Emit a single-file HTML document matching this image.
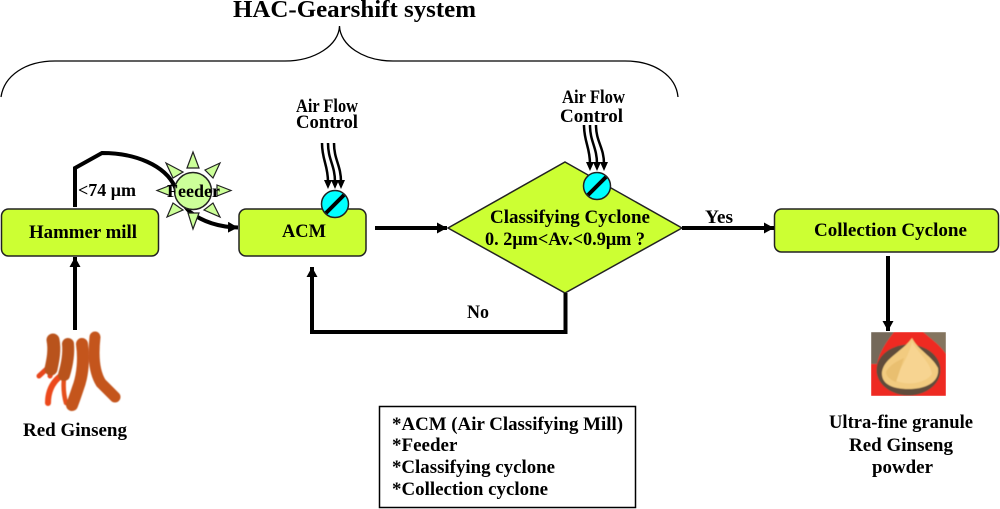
<!DOCTYPE html>
<html>
<head>
<meta charset="utf-8">
<style>
html,body{margin:0;padding:0;background:#fff}
svg{display:block}
text{font-family:"Liberation Serif",serif;font-weight:bold;fill:#000}
</style>
</head>
<body>
<svg width="1000" height="509" viewBox="0 0 1000 509" xmlns="http://www.w3.org/2000/svg">
<defs>
<marker id="a" markerWidth="13" markerHeight="13" refX="10" refY="5.500" orient="auto" markerUnits="userSpaceOnUse"><path d="M0 0L10 5.500L0 11Z" fill="#000"/></marker>
<filter id="b" x="-10%" y="-10%" width="120%" height="120%"><feGaussianBlur stdDeviation="0.5"/></filter>
<clipPath id="c"><rect x="871" y="332" width="75" height="64"/></clipPath>
</defs>

<text x="233" y="17" font-size="24" textLength="243" lengthAdjust="spacingAndGlyphs">HAC-Gearshift system</text>
<path d="M1 97C4 76 25 61 55 61H285C315 61 339 45 339.500 26C340 45 363 61 393 61H625C655 61 676 76 678 97" fill="none" stroke="#000" stroke-width="1.300"/>

<!-- boxes -->
<rect x="1.500" y="209" width="157" height="47" rx="7" fill="#ccff33" stroke="#222" stroke-width="1.500"/>
<rect x="239" y="209" width="127" height="47" rx="7" fill="#ccff33" stroke="#222" stroke-width="1.500"/>
<rect x="774.500" y="209" width="224" height="43" rx="7" fill="#ccff33" stroke="#222" stroke-width="1.500"/>
<path d="M565 162L682 228L565 293L448 228Z" fill="#ccff33" stroke="#222" stroke-width="1.500"/>

<text x="29" y="238" font-size="19" textLength="108" lengthAdjust="spacingAndGlyphs">Hammer mill</text>
<text x="282" y="237" font-size="19" textLength="44" lengthAdjust="spacingAndGlyphs">ACM</text>
<text x="814" y="236" font-size="19" textLength="153" lengthAdjust="spacingAndGlyphs">Collection Cyclone</text>
<text x="490" y="223" font-size="19" textLength="160" lengthAdjust="spacingAndGlyphs">Classifying Cyclone</text>
<text x="485" y="245" font-size="19" textLength="160" lengthAdjust="spacingAndGlyphs">0. 2μm&lt;Av.&lt;0.9μm ?</text>

<!-- hammer mill to feeder curve -->
<path d="M75 207V168L102 153C135 153 165 165 175 187" fill="none" stroke="#000" stroke-width="4"/>
<path d="M175 187C178 197 185 207 190 212C203 222 218 227 238 227.500" fill="none" stroke="#000" stroke-width="4" marker-end="url(#a)"/>
<text x="78" y="196" font-size="18" textLength="58" lengthAdjust="spacingAndGlyphs">&lt;74 μm</text>

<!-- feeder sun -->
<g fill="#ccff99" stroke="#222" stroke-width="1.200">
<path d="M187 168L193 152L199 168Z"/>
<path d="M188 213L193 229L199 213Z"/>
<path d="M171 185L157 190.500L171 196Z"/>
<path d="M217 185L231 190.500L217 196Z"/>
<path d="M166 163L183 172L173 178Z"/>
<path d="M220 163L205 170L213 178Z"/>
<path d="M167 217L173 203L183 210Z"/>
<path d="M220 217L213 203L204 210Z"/>
<circle cx="193" cy="191" r="18.500" stroke-width="1.500"/>
</g>
<text x="167" y="197" font-size="18" textLength="53" lengthAdjust="spacingAndGlyphs">Feeder</text>

<!-- straight connectors -->
<path d="M75 330V257" fill="none" stroke="#000" stroke-width="4" marker-end="url(#a)"/>
<path d="M375 228H447" fill="none" stroke="#000" stroke-width="4" marker-end="url(#a)"/>
<path d="M682 228H774" fill="none" stroke="#000" stroke-width="4" marker-end="url(#a)"/>
<path d="M565.500 293V332H312V267" fill="none" stroke="#000" stroke-width="4" marker-end="url(#a)"/>
<path d="M888 256V331" fill="none" stroke="#000" stroke-width="4" marker-end="url(#a)"/>

<text x="705" y="223" font-size="19" textLength="28" lengthAdjust="spacingAndGlyphs">Yes</text>
<text x="467" y="318" font-size="19" textLength="22" lengthAdjust="spacingAndGlyphs">No</text>

<!-- air flow left -->
<text x="296" y="112" font-size="18.500" textLength="62" lengthAdjust="spacingAndGlyphs">Air Flow</text>
<text x="296" y="128" font-size="18.500" textLength="62" lengthAdjust="spacingAndGlyphs">Control</text>
<g fill="none" stroke="#000" stroke-width="2.500">
<path d="M322 143C322 160 328 165 328 182"/>
<path d="M328 143C328 160 335 165 335 182"/>
<path d="M334 143C334 160 341 165 341 182"/>
</g>
<path d="M324 180H332L328 189ZM331 180H339L335 189ZM337 180H345L341 189Z" fill="#000"/>
<circle cx="335" cy="204" r="13.500" fill="#00ffff" stroke="#222" stroke-width="1.500"/>
<path d="M326 213L344 195" stroke="#000" stroke-width="4"/>

<!-- air flow right -->
<text x="562" y="103" font-size="18.500" textLength="63" lengthAdjust="spacingAndGlyphs">Air Flow</text>
<text x="560" y="122" font-size="18.500" textLength="63" lengthAdjust="spacingAndGlyphs">Control</text>
<g fill="none" stroke="#000" stroke-width="2.500">
<path d="M584 125C584 142 590 147 590 164"/>
<path d="M590 125C590 142 597 147 597 164"/>
<path d="M596 125C596 142 604 147 604 164"/>
</g>
<path d="M586 162H594L590 171ZM593 162H601L597 171ZM600 162H608L604 171Z" fill="#000"/>
<circle cx="597" cy="186" r="13.500" fill="#00ffff" stroke="#222" stroke-width="1.500"/>
<path d="M588 195L606 177" stroke="#000" stroke-width="4"/>

<!-- ginseng -->
<g fill="none" stroke-linecap="round" filter="url(#b)">
<path d="M51 365L39 376" stroke="#e8461c" stroke-width="5"/>
<path d="M54 365L50 376" stroke="#e8461c" stroke-width="5"/>
<path d="M53 340C55 350 53 360 51 369" stroke="#b9521f" stroke-width="13"/>
<path d="M62 375C52 382 48 392 48 403" stroke="#ec4a1a" stroke-width="6"/>
<path d="M64 378C63 388 64 396 66 403" stroke="#e5501c" stroke-width="4.500"/>
<path d="M68 344C69 355 67 365 64 375" stroke="#b9521f" stroke-width="12"/>
<path d="M82 344C84 358 83 375 78 388C76 394 74 400 72 405" stroke="#c4541e" stroke-width="12"/>
<path d="M95 337C93 355 94 372 101 383L115 397" stroke="#c4541e" stroke-width="11"/>
</g>
<text x="23" y="436" font-size="19" textLength="104" lengthAdjust="spacingAndGlyphs">Red Ginseng</text>

<!-- powder -->
<g clip-path="url(#c)" filter="url(#b)">
<rect x="871" y="332" width="75" height="64" fill="#ee2a20"/>
<path d="M871 332H894C888 340 880 350 877 364L871 364Z" fill="#75695a"/>
<path d="M923 332H946V354C940 345 930 338 923 332Z" fill="#84745f"/>
<ellipse cx="908.500" cy="370" rx="32" ry="25.500" fill="#5f4c3a"/>
<path d="M882 372C884 358 902 352 912 338C918 350 932 356 938 368C940 382 926 389 909 389C892 389 881 384 882 372Z" fill="#f2cb80"/>
<path d="M912 342C920 355 930 362 932 374C925 384 905 386 895 380C900 368 908 358 912 342Z" fill="#f7d491"/>
<path d="M886 372C890 364 900 360 904 358L896 382C890 380 886 376 886 372Z" fill="#e9bf70"/>
</g>

<text x="829" y="428" font-size="19" textLength="144" lengthAdjust="spacingAndGlyphs">Ultra-fine granule</text>
<text x="849" y="451" font-size="19" textLength="104" lengthAdjust="spacingAndGlyphs">Red Ginseng</text>
<text x="872" y="473" font-size="19" textLength="61" lengthAdjust="spacingAndGlyphs">powder</text>

<!-- legend -->
<rect x="379.500" y="406.500" width="256" height="101" fill="#fff" stroke="#000" stroke-width="1.500"/>
<text x="392" y="430" font-size="19" textLength="231" lengthAdjust="spacingAndGlyphs">*ACM (Air Classifying Mill)</text>
<text x="392" y="451" font-size="19">*Feeder</text>
<text x="392" y="473" font-size="19" textLength="163" lengthAdjust="spacingAndGlyphs">*Classifying cyclone</text>
<text x="392" y="495" font-size="19" textLength="156" lengthAdjust="spacingAndGlyphs">*Collection cyclone</text>
</svg>
</body>
</html>
